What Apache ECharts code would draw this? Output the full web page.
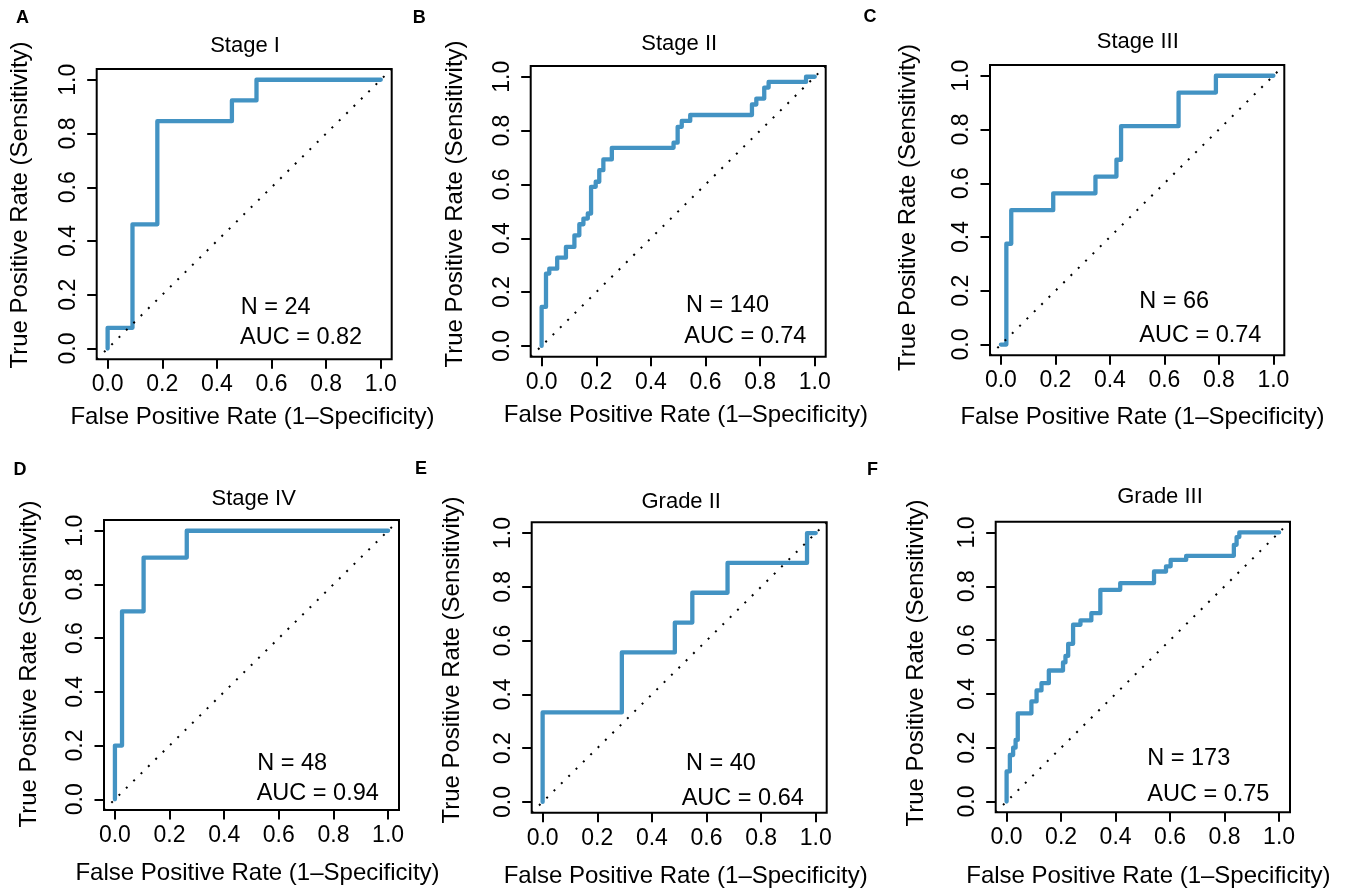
<!DOCTYPE html>
<html>
<head>
<meta charset="utf-8">
<script src="https://cdn.jsdelivr.net/npm/echarts@6/dist/echarts.min.js"></script>
<style>
html,body{margin:0;padding:0;background:#fff;}
#chart{width:1349px;height:890px;}
</style>
</head>
<body>
<div id="chart"></div>
<script>
// ---------------- DATA ----------------
const tickValues = [0, 0.2, 0.4, 0.6, 0.8, 1.0];
const panelLetters = ['A', 'B', 'C', 'D', 'E', 'F'];
const panelTitles = ['Stage I', 'Stage II', 'Stage III', 'Stage IV', 'Grade II', 'Grade III'];
const nValues = [24, 140, 66, 48, 40, 173];
const aucValues = [0.82, 0.74, 0.74, 0.94, 0.64, 0.75];

// ROC steps: false positive rate where the curve rises, and the sensitivity it rises to
const stageI_fpr = [0, 0.091, 0.182, 0.455, 0.545];
const stageI_tpr = [0.077, 0.462, 0.846, 0.923, 1.0];

const stageII_fpr = [0, 0.016, 0.028, 0.057, 0.089, 0.12, 0.138, 0.153, 0.169, 0.181, 0.198, 0.211, 0.226, 0.257, 0.483, 0.498, 0.513, 0.544, 0.77, 0.786, 0.815, 0.831, 0.968];
const stageII_tpr = [0.145, 0.269, 0.287, 0.328, 0.368, 0.411, 0.452, 0.473, 0.492, 0.591, 0.61, 0.653, 0.693, 0.736, 0.755, 0.814, 0.836, 0.858, 0.897, 0.919, 0.96, 0.981, 1.0];

const stageIII_fpr = [0.02, 0.038, 0.192, 0.347, 0.424, 0.441, 0.652, 0.789];
const stageIII_tpr = [0.375, 0.5, 0.5625, 0.625, 0.6875, 0.8125, 0.9375, 1.0];

const stageIV_fpr = [0, 0.026, 0.105, 0.263];
const stageIV_tpr = [0.2, 0.7, 0.9, 1.0];

const gradeII_fpr = [0, 0.29, 0.484, 0.548, 0.677, 0.968];
const gradeII_tpr = [0.333, 0.556, 0.667, 0.778, 0.889, 1.0];

const gradeIII_fpr = [0, 0.012, 0.024, 0.033, 0.041, 0.091, 0.11, 0.128, 0.155, 0.207, 0.216, 0.226, 0.244, 0.271, 0.311, 0.344, 0.417, 0.541, 0.585, 0.602, 0.659, 0.834, 0.844, 0.854];
const gradeIII_tpr = [0.112, 0.173, 0.2, 0.229, 0.328, 0.372, 0.413, 0.44, 0.487, 0.517, 0.541, 0.586, 0.657, 0.673, 0.7, 0.787, 0.812, 0.855, 0.874, 0.898, 0.913, 0.954, 0.983, 1.0];

const rocFpr = [stageI_fpr, stageII_fpr, stageIII_fpr, stageIV_fpr, gradeII_fpr, gradeIII_fpr];
const rocTpr = [stageI_tpr, stageII_tpr, stageIII_tpr, stageIV_tpr, gradeII_tpr, gradeIII_tpr];

// ---------------- LAYOUT ----------------
// plot boxes [left, top, width, height]
const boxes = [
  [96.7, 69, 295, 290.3],
  [530.7, 66, 295, 290.7],
  [990, 65, 294.3, 290.3],
  [104, 520, 295, 290],
  [531.7, 522.3, 295, 290.4],
  [995.7, 521.7, 294.3, 290.6]
];
const letterPos = [[22.5, 18.5], [419.3, 18.5], [870, 17.5], [20, 470], [421, 469], [872.5, 470.5]];
const titlePos = [[245, 53.3], [679.2, 51.7], [1137.8, 50], [253.7, 506.7], [681.2, 509.3], [1160, 505]];
const yTitlePos = [[20.8, 205], [455, 204], [908.3, 207.5], [29, 664], [452, 660], [916, 663]];
const xTitlePos = [[252.5, 426], [685.8, 424], [1142.5, 426], [257.5, 881.7], [685.7, 885], [1148.3, 885]];
const nPos = [[240.7, 316], [686, 313.3], [1139.3, 310], [257.3, 771.7], [686, 771.7], [1147.3, 766.7]];
const aucPos = [[240, 345.7], [684.3, 345], [1139.3, 343.3], [256.7, 801.7], [681.7, 806.7], [1147.3, 802.7]];

const FONT = '"Liberation Sans", Arial, Helvetica, sans-serif';
const CURVE = '#4393c3';
const PAD = 0.04;

function stepPath(fpr, tpr) {
  const pts = [[0, 0]];
  let y = 0;
  for (let i = 0; i < fpr.length; i++) {
    pts.push([fpr[i], y]);
    pts.push([fpr[i], tpr[i]]);
    y = tpr[i];
  }
  pts.push([1, y]);
  return pts;
}

const grids = [], xAxes = [], yAxes = [], series = [], graphics = [];

function baseText(x, y, text, size, extra) {
  return Object.assign({
    type: 'text', x: x, y: y, silent: true,
    style: Object.assign({
      text: text, fill: '#000', fontSize: size, fontFamily: FONT,
      align: 'left', verticalAlign: 'middle'
    }, extra || {})
  });
}

for (let i = 0; i < 6; i++) {
  const b = boxes[i];
  grids.push({
    left: b[0], top: b[1], width: b[2], height: b[3],
    show: true, borderColor: '#000', borderWidth: 2, backgroundColor: 'transparent',
    containLabel: false
  });
  const common = {
    type: 'value', gridIndex: i, min: -PAD, max: 1 + PAD,
    splitLine: { show: false },
    axisLine: { show: false, onZero: false },
    axisTick: { show: true, customValues: tickValues, length: 9.5, lineStyle: { color: '#000', width: 2 } }
  };
  xAxes.push(Object.assign({}, common, {
    axisLabel: {
      customValues: tickValues, formatter: v => v.toFixed(1),
      color: '#000', fontSize: 23, fontFamily: FONT, margin: 14
    }
  }));
  yAxes.push(Object.assign({}, common, {
    axisLabel: {
      customValues: tickValues, formatter: v => v.toFixed(1), rotate: 90,
      color: '#000', fontSize: 23, fontFamily: FONT, margin: 17
    }
  }));
  series.push({
    type: 'line', xAxisIndex: i, yAxisIndex: i,
    data: stepPath(rocFpr[i], rocTpr[i]),
    showSymbol: false, symbol: 'none', animation: false, silent: true,
    lineStyle: { color: CURVE, width: 4.3, cap: 'round', join: 'round' }
  });
  series.push({
    type: 'line', xAxisIndex: i, yAxisIndex: i,
    data: [[-PAD, -PAD], [1 + PAD, 1 + PAD]],
    showSymbol: false, symbol: 'none', animation: false, silent: true,
    lineStyle: { color: '#000', width: 2, type: [2, 8.3] }
  });

  graphics.push(baseText(letterPos[i][0], letterPos[i][1], panelLetters[i], 18,
    { fontWeight: 'bold', align: 'center' }));
  graphics.push(baseText(titlePos[i][0], titlePos[i][1] - 0.3465 * 22, panelTitles[i], 22,
    { align: 'center' }));
  graphics.push(baseText(xTitlePos[i][0], xTitlePos[i][1] - 0.3465 * 24,
    'False Positive Rate (1\u2013Specificity)', 24, { align: 'center' }));
  const yt = baseText(yTitlePos[i][0], yTitlePos[i][1],
    'True Positive Rate (Sensitivity)', 24, { align: 'center' });
  yt.rotation = Math.PI / 2;
  graphics.push(yt);
  graphics.push(baseText(nPos[i][0], nPos[i][1] - 0.3465 * 23.5, 'N = ' + nValues[i], 23.5));
  graphics.push(baseText(aucPos[i][0], aucPos[i][1] - 0.3465 * 23.5, 'AUC = ' + aucValues[i].toFixed(2), 23.5));
}

const chart = echarts.init(document.getElementById('chart'), null, { renderer: 'canvas' });
chart.setOption({
  backgroundColor: '#fff',
  animation: false,
  grid: grids,
  xAxis: xAxes,
  yAxis: yAxes,
  series: series,
  graphic: { elements: graphics }
});
</script>
</body>
</html>
